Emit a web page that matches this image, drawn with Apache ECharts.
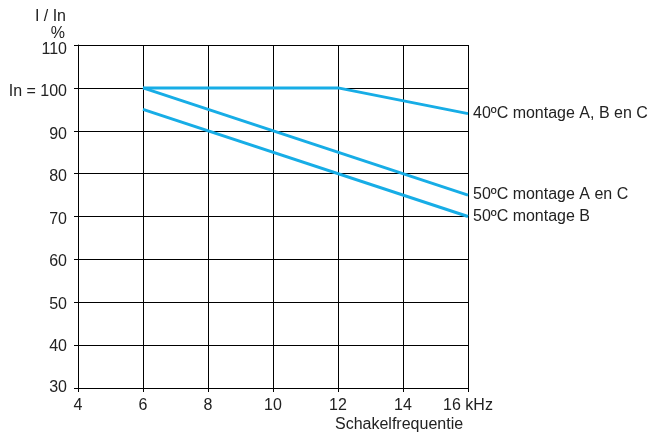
<!DOCTYPE html>
<html><head><meta charset="utf-8">
<script src="https://cdn.jsdelivr.net/npm/echarts@6/dist/echarts.min.js"></script>
<style>html,body{margin:0;padding:0;background:#fff}#c{width:650px;height:432px}</style>
</head><body><div id="c"></div>
<script>
const xValues = [6, 12, 16];
const xValuesB = [6, 16];
const seriesNames = ['40ºC montage A, B en C', '50ºC montage A en C', '50ºC montage B'];
const s40 = [100, 100, 94];
const s50AC = [100, 75];
const s50B = [95, 70];
const xTicks = ['4', '6', '8', '10', '12', '14', '16 kHz'];
const yTicks = {30:'30',40:'40',50:'50',60:'60',70:'70',80:'80',90:'90',100:'In = 100',110:'110'};

const chart = echarts.init(document.getElementById('c'), null, {renderer:'canvas'});
const font = 'Liberation Sans, Arial, sans-serif';
const lineColor = '#17ade6';
const txt = '#222';
// slight downward drift of the y labels in the reference
const drift = {30:0,40:1,50:2,60:2,70:3,80:3,90:4,100:4,110:5};
const rich = {};
Object.keys(drift).forEach(k=>{
  rich['d'+k] = {color:txt, fontFamily:font, fontSize:16, padding:[drift[k]*2,0,0,0]};
});
function mk(name, xs, ys){
  return {
    name, type:'line', data: xs.map((x,i)=>[x, ys[i]]),
    symbol:'none', lineStyle:{color:lineColor, width:3}, itemStyle:{color:lineColor},
    endLabel:{show:true, formatter:'{a}', color:txt, fontFamily:font, fontSize:16, distance:5},
    silent:true, animation:false
  };
}
chart.setOption({
  animation:false,
  grid:{left:78, right:182, top:45, bottom:44},
  xAxis:{type:'value', min:4, max:16, interval:2,
    axisLine:{lineStyle:{color:'#000', width:1}},
    axisTick:{show:true, length:4, lineStyle:{color:'#000'}},
    splitLine:{show:true, lineStyle:{color:'#000', width:1}},
    axisLabel:{color:txt, fontFamily:font, fontSize:16, margin:10,
      formatter:v=>xTicks[(v-4)/2], align:'center'}
  },
  yAxis:{type:'value', min:30, max:110, interval:10,
    axisLine:{show:true, lineStyle:{color:'#000', width:1}},
    axisTick:{show:true, length:4, lineStyle:{color:'#000'}},
    splitLine:{show:true, lineStyle:{color:'#000', width:1}},
    axisLabel:{color:txt, fontFamily:font, fontSize:16, margin:11,
      formatter:v=>'{d'+v+'|'+yTicks[v]+'}', rich}
  },
  graphic:[
    {type:'text', x:66, y:9, style:{text:'I / In', fill:txt, font:'16px '+font, textAlign:'right'}},
    {type:'text', x:65, y:26, style:{text:'%', fill:txt, font:'16px '+font, textAlign:'right'}},
    {type:'text', left:335, top:417, style:{text:'Schakelfrequentie', fill:txt, font:'16px '+font}}
  ],
  series:[mk(seriesNames[0], xValues, s40), mk(seriesNames[1], xValuesB, s50AC), mk(seriesNames[2], xValuesB, s50B)]
});
</script></body></html>
